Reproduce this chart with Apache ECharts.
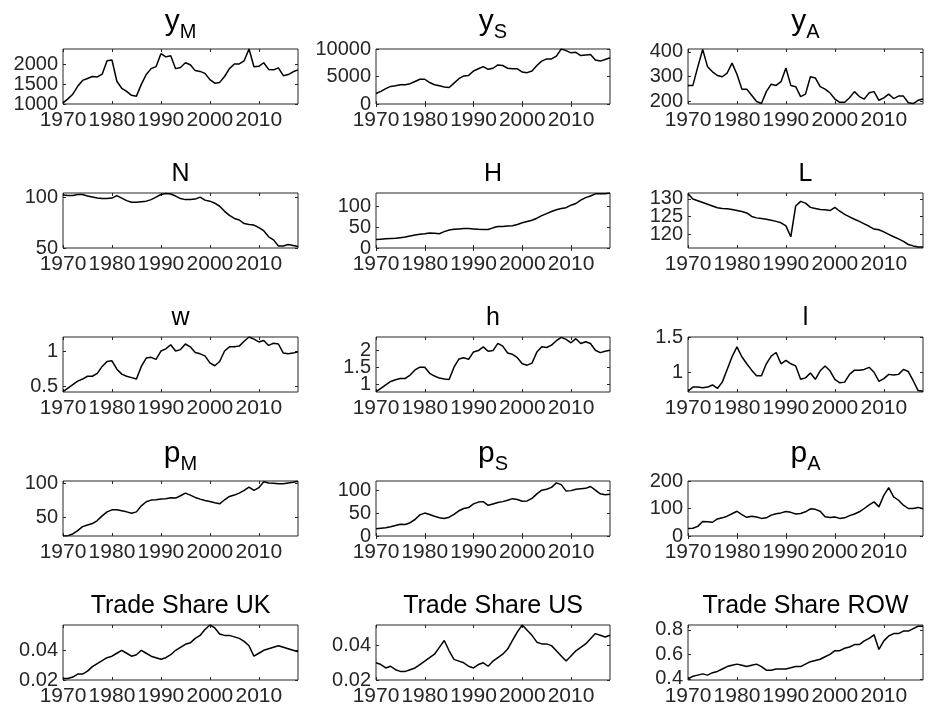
<!DOCTYPE html>
<html>
<head>
<meta charset="utf-8">
<script src="https://cdn.jsdelivr.net/npm/echarts@6/dist/echarts.min.js"></script>
<style>
html,body{margin:0;padding:0;background:#fff;}
#chart{width:945px;height:713px;}
</style>
</head>
<body>
<div id="chart"></div>
<script>
// ---------------- DATA ----------------
const years = [1970,1971,1972,1973,1974,1975,1976,1977,1978,1979,
               1980,1981,1982,1983,1984,1985,1986,1987,1988,1989,
               1990,1991,1992,1993,1994,1995,1996,1997,1998,1999,
               2000,2001,2002,2003,2004,2005,2006,2007,2008,2009,
               2010,2011,2012,2013,2014,2015,2016,2017,2018];
const xTicks = [1970,1980,1990,2000,2010];

const yM = [1030,1130,1250,1450,1600,1650,1700,1690,1760,2100,
            2120,1580,1400,1320,1220,1200,1500,1750,1900,1950,
            2280,2200,2230,1900,1930,2050,2000,1850,1830,1780,
            1620,1530,1550,1700,1900,2020,2020,2100,2400,1950,
            1960,2050,1880,1870,1920,1720,1750,1820,1870];
const yS = [1900,2300,2800,3200,3300,3500,3500,3700,4100,4500,
            4500,3900,3500,3300,3100,3000,3800,4600,5100,5200,
            6000,6400,6800,6300,6500,7100,7000,6500,6400,6400,
            5800,5700,6000,7000,7800,8200,8200,8700,10000,9700,
            9300,9400,8800,8900,9000,8000,7800,8100,8400];
const yA = [265,265,340,410,340,320,305,300,315,355,
            310,250,250,225,200,192,240,270,265,280,
            335,265,260,220,230,300,295,260,250,235,
            210,197,197,215,240,220,210,235,240,205,
            215,230,212,222,222,195,192,205,210];
const N  = [102,101.5,101.5,102.5,102.5,101,100,99,98.5,98.5,
            99,101.5,99,96.5,95,95,95.5,96,97.5,100,
            102.5,103.5,103,101,98.5,97.5,97.5,98,100,97,
            96,94,91,86,82,79,77.5,74,73,72.5,
            70,67,61,58,52,52,53.5,52.5,51.5];
const H  = [20,21,22,22.5,23,24.5,26,28.5,31,33,
            34,35.5,35,34,39,43,44.5,45.5,46.5,46.5,
            45.5,44.5,44,44,48,51,51.5,52.5,53,56,
            60,63,66,71,77,82,87,91,94,96,
            102,106,114,120,124,129,129,129,131];
const L  = [131.5,130,129.5,129,128.5,128,127.5,127.3,127.2,127,
            126.7,126.4,126,125,124.6,124.4,124.2,123.9,123.6,123.2,
            122.3,119.2,128,129.3,128.8,127.6,127.3,127,126.9,126.7,
            127.6,126.5,125.6,124.9,124.2,123.6,122.9,122.2,121.4,121.2,
            120.6,119.9,119.2,118.6,117.9,117,116.6,116.3,116.3];
const w  = [0.42,0.47,0.52,0.57,0.6,0.64,0.64,0.68,0.78,0.85,
            0.86,0.74,0.67,0.64,0.62,0.6,0.78,0.9,0.91,0.88,
            1.0,1.03,1.09,1.0,1.02,1.1,1.06,0.98,0.96,0.93,
            0.83,0.79,0.85,1.0,1.06,1.06,1.07,1.14,1.2,1.17,
            1.13,1.15,1.08,1.11,1.1,0.97,0.96,0.97,0.99];
const h  = [0.78,0.88,0.98,1.08,1.13,1.17,1.17,1.27,1.42,1.5,
            1.5,1.32,1.24,1.18,1.15,1.14,1.5,1.74,1.78,1.73,
            1.95,1.99,2.1,1.97,1.99,2.2,2.12,1.92,1.88,1.78,
            1.6,1.56,1.62,1.95,2.1,2.08,2.15,2.28,2.38,2.32,
            2.22,2.34,2.2,2.25,2.2,2.0,1.93,1.97,2.0];
const l  = [0.73,0.79,0.79,0.78,0.79,0.82,0.77,0.86,1.04,1.22,
            1.36,1.22,1.12,1.03,0.95,0.95,1.12,1.23,1.28,1.12,
            1.17,1.12,1.09,0.9,0.92,0.99,0.9,1.02,1.09,1.02,
            0.9,0.85,0.86,0.97,1.03,1.03,1.04,1.07,1.0,0.87,
            0.91,0.97,0.96,0.97,1.04,1.01,0.88,0.74,0.73];
const pM = [22,22.5,25,30,36,38.5,40.5,45,52,58,
            61,61,59.5,58,56,58,67,73,75.5,76,
            77,77.5,79,78.5,82,86,83,79.5,77,75,
            73.5,71.5,70,76,81,83,86,90,95,90,
            94,103,101,100.5,100,100,101,102,103.5];
const pS = [16,17,18,20,23,25.5,25,29,36,46,
            50,47,43,40,38,41,47,55,60,62,
            70,74,75,67,70,73,75,78,81.5,79.5,
            76,76.5,82,92,100,102,106,116,112,98,
            99,102,103,104,108,100,92,90,91];
const pA = [27,28,35,53,52,50,62,66,72,81,
            90,78,68,72,69,64,66,76,81,84,
            89,86,80,82,88,99,97,90,70,67,
            69,64,66,74,80,88,100,113,124,106,
            148,176,142,130,112,100,100,104,99];
const tsUK = [0.021,0.021,0.022,0.024,0.024,0.026,0.029,0.031,0.033,0.035,
              0.036,0.038,0.040,0.038,0.036,0.037,0.040,0.038,0.036,0.035,
              0.034,0.035,0.037,0.040,0.042,0.044,0.045,0.048,0.050,0.054,
              0.057,0.055,0.051,0.050,0.050,0.049,0.048,0.046,0.043,0.036,
              0.038,0.040,0.041,0.042,0.043,0.042,0.041,0.040,0.039];
const tsUS = [0.030,0.029,0.027,0.028,0.026,0.025,0.025,0.026,0.027,0.029,
              0.031,0.033,0.035,0.039,0.043,0.037,0.032,0.031,0.030,0.028,
              0.027,0.029,0.030,0.028,0.031,0.033,0.035,0.038,0.043,0.048,
              0.052,0.049,0.046,0.042,0.041,0.041,0.040,0.037,0.034,0.031,
              0.034,0.037,0.039,0.041,0.044,0.047,0.046,0.045,0.046];
const tsROW = [0.40,0.42,0.43,0.44,0.43,0.45,0.46,0.48,0.50,0.51,
               0.52,0.51,0.50,0.51,0.52,0.50,0.47,0.47,0.48,0.48,
               0.48,0.49,0.50,0.50,0.52,0.54,0.55,0.56,0.58,0.60,
               0.63,0.63,0.65,0.66,0.68,0.68,0.71,0.73,0.76,0.64,
               0.71,0.75,0.77,0.77,0.79,0.79,0.81,0.83,0.83];

// panel titles, y tick labels and y limits
const titles = [
  ['y','M'],['y','S'],['y','A'],
  ['N'],['H'],['L'],
  ['w'],['h'],['l'],
  ['p','M'],['p','S'],['p','A'],
  ['Trade Share UK'],['Trade Share US'],['Trade Share ROW']
];
const seriesData = [yM,yS,yA,N,H,L,w,h,l,pM,pS,pA,tsUK,tsUS,tsROW];
const yTicks = [
  [1000,1500,2000],[0,5000,10000],[200,300,400],
  [50,100],[0,50,100],[120,125,130],
  [0.5,1],[1,1.5,2],[1,1.5],
  [50,100],[0,50,100],[0,100,200],
  [0.02,0.04],[0.02,0.04],[0.4,0.6,0.8]
];
const yLimits = [
  [1000,2400],[0,10000],[190,412],
  [50,104],[0,131],[116,131.7],
  [0.415,1.2],[0.77,2.39],[0.72,1.5],
  [22,104],[0,120],[0,200],
  [0.02,0.057],[0.02,0.052],[0.39,0.84]
];

// ---------------- LAYOUT ----------------
const colLeft = [63,376,688];
const colWidth = [235,234,235];
const rowTop = [49,193,337,481,625];
const boxH = 55;
const FONT = '"Liberation Sans", Arial, Helvetica, sans-serif';
const TXT = '#262626';

const grids = [], xAxes = [], yAxes = [], series = [], graphics = [];
for (let i = 0; i < 15; i++) {
  const r = Math.floor(i / 3), c = i % 3;
  grids.push({left: colLeft[c], top: rowTop[r], width: colWidth[c], height: boxH,
              show: true, borderColor: TXT, borderWidth: 1, backgroundColor: '#fff'});
}
function xAx(i, pos, labels) {
  return {type: 'value', gridIndex: i, position: pos, min: 1970, max: 2018,
    splitLine: {show: false}, axisLine: {show: false},
    axisTick: {show: true, inside: true, length: 3, lineStyle: {color: TXT}, customValues: xTicks},
    axisLabel: {show: labels, customValues: xTicks, color: TXT, fontSize: 21, fontFamily: FONT, margin: 6,
                hideOverlap: false, formatter: v => String(v)}};
}
// ticks-only y axis
function yTickAx(i, pos) {
  return {type: 'value', gridIndex: i, position: pos, min: yLimits[i][0], max: yLimits[i][1],
    splitLine: {show: false}, axisLine: {show: false},
    axisTick: {show: true, inside: true, length: 3, lineStyle: {color: TXT}, customValues: yTicks[i]},
    axisLabel: {show: false}};
}
// labels-only y axis (labels split over two axes so that none is dropped)
function yLabAx(i, vals) {
  return {type: 'value', gridIndex: i, position: 'left', offset: 0,
    min: yLimits[i][0], max: yLimits[i][1],
    splitLine: {show: false}, axisLine: {show: false}, axisTick: {show: false},
    axisLabel: {show: vals.length > 0, customValues: vals, color: TXT, fontSize: 20,
                fontFamily: FONT, margin: 5, hideOverlap: false,
                showMinLabel: true, showMaxLabel: true, formatter: v => String(v)}};
}
for (let i = 0; i < 15; i++) {
  xAxes.push(xAx(i, 'bottom', true));
  yAxes.push(yTickAx(i, 'left'));
}
for (let i = 0; i < 15; i++) {
  xAxes.push(xAx(i, 'top', false));
  yAxes.push(yTickAx(i, 'right'));
}
for (let i = 0; i < 15; i++) {
  yAxes.push(yLabAx(i, yTicks[i].filter((v, k) => k % 2 === 0)));
}
for (let i = 0; i < 15; i++) {
  yAxes.push(yLabAx(i, yTicks[i].filter((v, k) => k % 2 === 1)));
}
for (let i = 0; i < 15; i++) {
  series.push({type: 'line', xAxisIndex: i, yAxisIndex: i, symbol: 'none', silent: true,
    lineStyle: {color: '#000', width: 1.5}, animation: false,
    data: years.map((yr, k) => [yr, seriesData[i][k]])});
  const r = Math.floor(i / 3), c = i % 3;
  const t = titles[i];
  const cx = colLeft[c] + colWidth[c] / 2;
  let style;
  if (t.length === 2) {
    style = {text: '{b|' + t[0] + '}{s|' + t[1] + '}', x: cx, y: rowTop[r] - 7,
      align: 'center', verticalAlign: 'bottom',
      rich: {b: {fontSize: 30, fontFamily: FONT, fill: '#000', verticalAlign: 'bottom', padding: [0,0,5,0]},
             s: {fontSize: 20, fontFamily: FONT, fill: '#000', verticalAlign: 'bottom'}}};
  } else {
    style = {text: t[0], x: cx, y: rowTop[r] - 6, align: 'center', verticalAlign: 'bottom',
      fontSize: 25, fontFamily: FONT, fill: '#000'};
  }
  graphics.push({type: 'text', style: style, silent: true});
}

const chart = echarts.init(document.getElementById('chart'), null, {renderer: 'canvas'});
chart.setOption({
  backgroundColor: '#fff',
  animation: false,
  grid: grids,
  xAxis: xAxes,
  yAxis: yAxes,
  series: series,
  graphic: graphics
});
</script>
</body>
</html>
